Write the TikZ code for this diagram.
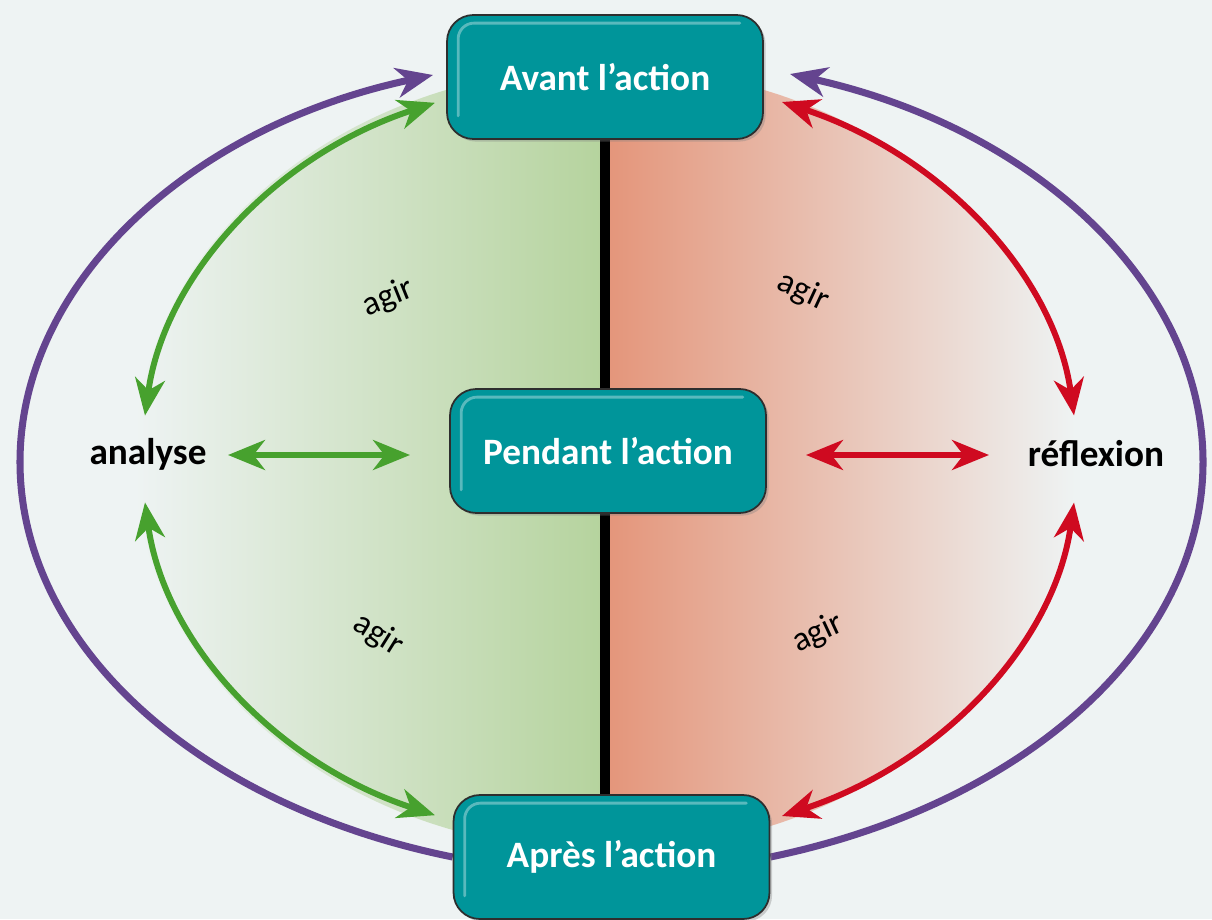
\documentclass[tikz,border=0pt]{standalone}
\usepackage{fontspec}
\setmainfont{Carlito}
\usetikzlibrary{arrows.meta,calc,shadows}
\definecolor{bgc}{HTML}{EEF3F3}
\definecolor{greenfill}{HTML}{B5D39D}
\definecolor{redfill}{HTML}{E4957A}
\definecolor{garrow}{HTML}{47A12E}
\definecolor{rarrow}{HTML}{CF0A20}
\definecolor{parrow}{HTML}{64448F}
\definecolor{tealc}{HTML}{00959A}
\definecolor{boxedge}{HTML}{2E2E2E}
\pgfdeclarelayer{back}
\pgfsetlayers{back,main}
\begin{document}
\begin{tikzpicture}[x=0.02cm,y=-0.02cm,
  dbl/.style={line width=3.4pt,
    {Stealth[length=21pt,width=17pt,inset=6.5pt]}-{Stealth[length=21pt,width=17pt,inset=6.5pt]}},
  sgl/.style={line width=4pt, -{Stealth[length=21pt,width=17pt,inset=6.5pt]}},
  box/.style={rounded corners=15pt, fill=tealc, draw=boxedge, line width=1pt,
    minimum width=6.32cm, minimum height=2.48cm, inner sep=0pt, text=white,
    font=\bfseries\fontsize{21.2}{25}\selectfont,
    drop shadow={shadow xshift=1.5pt, shadow yshift=-1.5pt, opacity=.35}},
  gloss/.style={white, opacity=.35, line width=1.6pt, line cap=round, rounded corners=9pt},
  lbl/.style={font=\bfseries\fontsize{21.2}{25}\selectfont, text=black},
  agirlbl/.style={font=\fontsize{19.5}{22}\selectfont, text=black, inner sep=1pt}]

% nodes
\node[box] (avant) at (605,77) {Avant l’action};
\node[box] (pendant) at (608,451) {Pendant l’action};
\node[box] (apres) at (611.5,857) {Après l’action};

\node[lbl] (analyse) at (148,454) {analyse};
\node[lbl] (reflexion) at (1096,454) {réflexion};

\node[agirlbl, rotate=22] (agir1) at (388,298) {agir};
\node[agirlbl, rotate=-25] (agir2) at (803,292) {agir};
\node[agirlbl, rotate=-32] (agir3) at (378,635) {agir};
\node[agirlbl, rotate=25] (agir4) at (818,633) {agir};

% gloss on boxes
\foreach \n in {avant,pendant,apres}{
  \draw[gloss] ($(\n.south west)+(12,-24)$) -- ($(\n.north west)+(12,9)$) -- ($(\n.north east)+(-24,9)$);
}

% endpoints
\coordinate (gTa) at (145,415.6);
\coordinate (gTb) at (435,102.8);
\coordinate (gBa) at (145,502.4);
\coordinate (gBb) at (435,815.2);
\coordinate (rTa) at (1074,415.4);
\coordinate (rTb) at (782,102);
\coordinate (rBa) at (1074,502.6);
\coordinate (rBb) at (782,816);
\coordinate (pL) at (433,75);
\coordinate (pR) at (790,74);
\coordinate (gHa) at (228,455);
\coordinate (gHb) at (410,455);
\coordinate (rHa) at (806,455);
\coordinate (rHb) at (989,455);

\begin{pgfonlayer}{back}
\fill[bgc] (0,0) rectangle (1212,919);
% shaded half ellipses
\shade[left color=bgc, right color=greenfill]
  (605,67) .. controls (345.4,67) and (135,242.5) .. (135,459)
  .. controls (135,675.5) and (345.4,851) .. (605,851) -- cycle;
\shade[left color=redfill, right color=bgc]
  (605,67) .. controls (864.6,67) and (1075,242.5) .. (1075,459)
  .. controls (1075,675.5) and (864.6,851) .. (605,851) -- cycle;
% vertical black line
\draw[line width=5.7pt, black] (avant.south) -- (avant.south |- apres.north);
% green arcs
\draw[dbl, garrow] (gTa) .. controls (164.4,275) and (275.9,154.8) .. (gTb);
\draw[dbl, garrow] (gBa) .. controls (164.4,643) and (275.9,763.2) .. (gBb);
\draw[dbl, garrow] (gHa) -- (gHb);
% red arcs
\draw[dbl, rarrow] (rTa) .. controls (1054.4,275.2) and (942.3,154.9) .. (rTb);
\draw[dbl, rarrow] (rBa) .. controls (1054.4,642.8) and (942.3,763.1) .. (rBb);
\draw[dbl, rarrow] (rHa) -- (rHb);
% purple arcs
\draw[sgl, parrow] (apres.west) .. controls (197.6,805.5) and (20,645.1) .. (20,462)
  .. controls (20,284.2) and (187.6,127.3) .. (pL);
\draw[sgl, parrow] (apres.east) .. controls (1026.4,804) and (1203,644) .. (1203,462)
  .. controls (1203,285.3) and (1036.2,128.6) .. (pR);
\end{pgfonlayer}
\useasboundingbox (0,0) rectangle (1212,919);
\end{tikzpicture}
\end{document}
